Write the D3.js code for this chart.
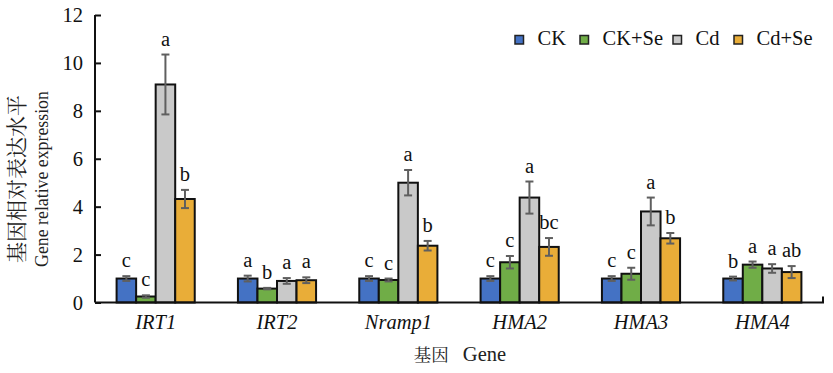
<!DOCTYPE html>
<html><head><meta charset="utf-8">
<script src="https://cdn.jsdelivr.net/npm/d3@7"></script>
</head><body style="margin:0;background:#fff"><svg id="c" width="833" height="373"></svg>
<script>
const genes = ["IRT1","IRT2","Nramp1","HMA2","HMA3","HMA4"];
const series = ["CK","CK+Se","Cd","Cd+Se"];
const colors = ["#4472C4","#70AD47","#C9C9C9","#E9AD38"];
const valCK    = [1.0, 1.0, 1.0, 1.0, 1.0, 1.0];
const valCKSe  = [0.25, 0.58, 0.94, 1.68, 1.2, 1.58];
const valCd    = [9.1, 0.9, 5.0, 4.38, 3.8, 1.42];
const valCdSe  = [4.32, 0.93, 2.37, 2.32, 2.68, 1.27];
const errCK    = [0.1, 0.12, 0.1, 0.1, 0.1, 0.08];
const errCKSe  = [0.05, 0.03, 0.06, 0.26, 0.25, 0.13];
const errCd    = [1.25, 0.12, 0.53, 0.67, 0.58, 0.18];
const errCdSe  = [0.38, 0.12, 0.2, 0.37, 0.22, 0.25];
const lblCK    = ["c","a","c","c","c","b"];
const lblCKSe  = ["c","b","c","c","c","a"];
const lblCd    = ["a","a","a","a","a","a"];
const lblCdSe  = ["b","a","b","bc","b","ab"];
const yTicks = [0,2,4,6,8,10,12];

const SF='"Liberation Serif"', CJK='"Noto Serif CJK SC"';
const vals=[valCK,valCKSe,valCd,valCdSe], errs=[errCK,errCKSe,errCd,errCdSe], lbls=[lblCK,lblCKSe,lblCd,lblCdSe];
const data=[];
genes.forEach((g,gi)=>series.forEach((s,si)=>data.push({g,s,si,v:vals[si][gi],e:errs[si][gi],l:lbls[si][gi]})));

const svg=d3.select("#c");
const L=95,R=823,T=15,B=302.5;
const x=d3.scaleBand().domain(genes).range([L,R]).paddingInner(0.356).paddingOuter(0.178);
const xs=d3.scaleBand().domain(series).range([0,x.bandwidth()]);
const y=d3.scaleLinear().domain([0,12]).range([B,T]);

// bars
svg.append("g").selectAll("rect").data(data).join("rect")
 .attr("x",d=>x(d.g)+xs(d.s)).attr("width",xs.bandwidth())
 .attr("y",d=>y(d.v)).attr("height",d=>y(0)-y(d.v))
 .attr("fill",d=>colors[d.si]).attr("stroke","#111").attr("stroke-width",2);

// error bars
const eg=svg.append("g").attr("stroke","#5f5f5f").attr("stroke-width",2);
data.forEach(d=>{
  const cx=x(d.g)+xs(d.s)+xs.bandwidth()/2;
  eg.append("line").attr("x1",cx).attr("x2",cx).attr("y1",y(d.v+d.e)).attr("y2",y(d.v-d.e));
  eg.append("line").attr("x1",cx-4).attr("x2",cx+4).attr("y1",y(d.v+d.e)).attr("y2",y(d.v+d.e));
  eg.append("line").attr("x1",cx-4).attr("x2",cx+4).attr("y1",y(d.v-d.e)).attr("y2",y(d.v-d.e));
});

// letters
svg.append("g").selectAll("text").data(data).join("text")
 .attr("x",d=>x(d.g)+xs(d.s)+xs.bandwidth()/2).attr("y",d=>y(d.v+d.e)-9)
 .attr("text-anchor","middle").style("font-family",SF).style("font-size","20.5px").attr("fill","#111")
 .text(d=>d.l);

// y axis
const ya=svg.append("g").attr("transform",`translate(${L},0)`)
 .call(d3.axisLeft(y).tickValues(yTicks).tickSize(-6).tickPadding(12));
ya.select(".domain").attr("stroke","#111").attr("stroke-width",2).attr("d",`M0,${B}V${T}`);
ya.selectAll(".tick line").attr("stroke","#111").attr("stroke-width",2);
ya.selectAll(".tick text").style("font-family",SF).style("font-size","20.5px").attr("fill","#111");

// x axis
const xa=svg.append("g").attr("transform",`translate(0,${B})`)
 .call(d3.axisBottom(x).tickSize(0).tickPadding(12));
xa.select(".domain").attr("stroke","#111").attr("stroke-width",2).attr("d",`M${L},0H${R}V-6`);
xa.selectAll(".tick text").style("font-family",SF).style("font-size","20.5px").style("font-style","italic").attr("fill","#111");

// axis titles
const xt=svg.append("text").attr("x",460).attr("y",361).attr("text-anchor","middle").attr("fill","#222");
xt.append("tspan").style("font-family",CJK).style("font-size","17.5px").text("基因");
xt.append("tspan").attr("dx",14).style("font-family",SF).style("font-size","20.5px").text("Gene");
const yt=svg.append("g").attr("transform","translate(0,179) rotate(-90)");
yt.append("text").attr("x",0).attr("y",24).attr("text-anchor","middle")
 .style("font-family",CJK).style("font-size","21px").attr("fill","#222").text("基因相对表达水平");
yt.append("text").attr("x",0).attr("y",48).attr("text-anchor","middle")
 .style("font-family",SF).style("font-size","17.8px").attr("fill","#222").text("Gene relative expression");

// legend
const legX=[515,580,673,734];
const lg=svg.append("g");
series.forEach((s,i)=>{
  lg.append("rect").attr("x",legX[i]).attr("y",35.5).attr("width",8.5).attr("height",8.5)
   .attr("fill",colors[i]).attr("stroke","#222").attr("stroke-width",1.5);
  lg.append("text").attr("x",legX[i]+22.5).attr("y",44.5).style("font-family",SF).style("font-size","20.5px").attr("fill","#111").text(s);
});
</script></body></html>
